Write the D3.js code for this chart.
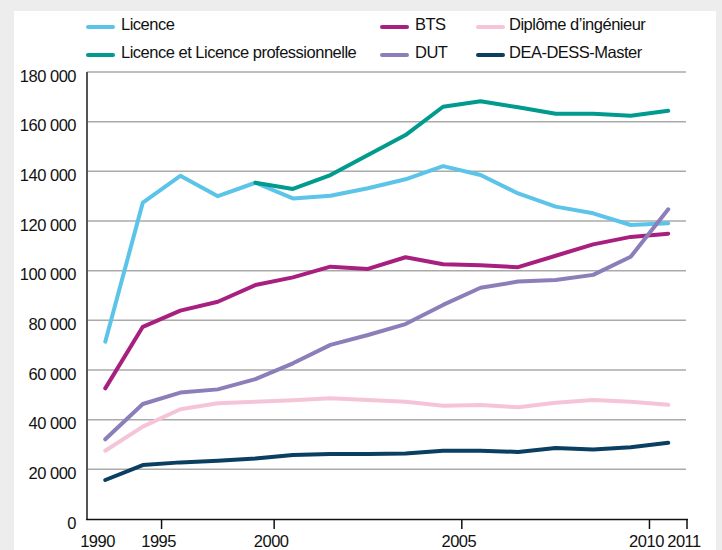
<!DOCTYPE html>
<html><head><meta charset="utf-8">
<script src="https://cdn.jsdelivr.net/npm/d3@7"></script>
<style>
html,body{margin:0;padding:0;background:#ecedec;}
svg{display:block;font-family:"Liberation Sans",Arial,sans-serif;}
text{letter-spacing:-0.5px;}
</style></head>
<body><svg id="c" width="722" height="550"></svg>
<script>
const categories = ["1990","1994","1995","1996","1998","2000","2001","2002","2003","2004","2005","2006","2007","2008","2009","2010"];
const licence      = [71400,127400,138200,130000,135400,129100,130200,133200,136800,142100,138500,131100,125800,123100,118400,119100];
const licenceLP    = [null,null,null,null,135400,132900,138500,146600,154600,166000,168200,165800,163200,163200,162400,164400];
const bts          = [52600,77400,83900,87500,94200,97300,101600,100700,105400,102600,102200,101400,106000,110600,113600,114900];
const ingenieur    = [27500,37200,44200,46600,47200,47800,48600,47900,47200,45600,45900,45000,46800,47900,47200,46000];
const master       = [15700,21700,22800,23500,24400,25800,26200,26200,26400,27500,27500,27000,28600,28000,28900,30700];
const dut          = [32100,46300,50900,52200,56300,62700,70100,74100,78500,86200,93100,95600,96200,98300,105600,124700];
const yTicks = [0,20000,40000,60000,80000,100000,120000,140000,160000,180000];
const xTickLabels = ["1990","1995","2000","2005","2010","2011"];

const series = [
  {name:"Licence", values:licence, color:"#5bc4e8"},
  {name:"Licence et Licence professionnelle", values:licenceLP, color:"#009a8e"},
  {name:"BTS", values:bts, color:"#a8207f"},
  {name:"Diplôme d’ingénieur", values:ingenieur, color:"#f6c4d9"},
  {name:"DEA-DESS-Master", values:master, color:"#0b3f61"},
  {name:"DUT", values:dut, color:"#8b7eb9"}
];

const svg = d3.select("#c");
svg.append("rect").attr("x",14).attr("y",11).attr("width",702).attr("height",545).attr("fill","#ffffff");

const x = d3.scaleBand().domain(categories).range([86.5,687]);
const y = d3.scaleLinear().domain([0,180000]).range([519,72]);
const fmt = v => d3.format(",")(v).replace(/,/g," ");
const FS = "16.5px";

// gridlines
svg.append("g").selectAll("line").data(yTicks.filter(v=>v>0)).join("line")
  .attr("x1",87).attr("x2",686).attr("y1",d=>y(d)).attr("y2",d=>y(d))
  .attr("stroke","#aaaaaa").attr("stroke-width",1.5);

// y labels
svg.append("g").selectAll("text").data(yTicks).join("text")
  .attr("x",76).attr("y",d=>y(d)+4).attr("dy","0.35em").attr("text-anchor","end")
  .attr("font-size",FS).attr("fill","#111").text(fmt);

// y axis line
svg.append("line").attr("x1",87).attr("x2",87).attr("y1",y(180000)).attr("y2",y(0))
  .attr("stroke","#555").attr("stroke-width",2);

// x axis
const tickPos = xTickLabels.map(l => categories.includes(l) ? x(l) : x.range()[1]);
svg.append("line").attr("x1",86).attr("x2",x.range()[1]+1).attr("y1",519.5).attr("y2",519.5)
  .attr("stroke","#111").attr("stroke-width",1.5);
svg.append("g").selectAll("line").data(tickPos.slice(1)).join("line")
  .attr("x1",d=>d).attr("x2",d=>d).attr("y1",519).attr("y2",529)
  .attr("stroke","#111").attr("stroke-width",1.5);
svg.append("g").selectAll("text").data(xTickLabels).join("text")
  .attr("x",(d,i)=> i===0 ? tickPos[i]+11 : tickPos[i]-3)
  .attr("y",541).attr("dy","0.35em").attr("text-anchor","middle")
  .attr("font-size",FS).attr("fill","#111").text(d=>d);

// lines
const line = d3.line()
  .defined(d=>d.v!==null)
  .x(d=>x(d.c)+x.bandwidth()/2).y(d=>y(d.v));
svg.append("g").selectAll("path").data(series).join("path")
  .attr("d",s=>line(categories.map((c,i)=>({c, v:s.values[i]}))))
  .attr("fill","none").attr("stroke",s=>s.color).attr("stroke-width",4)
  .attr("stroke-linejoin","round").attr("stroke-linecap","round");

// legend
const legendItems = [
  {s:series[0], x:88, y:24},
  {s:series[1], x:88, y:52},
  {s:series[2], x:382, y:24},
  {s:series[5], x:382, y:52},
  {s:series[3], x:478, y:24},
  {s:series[4], x:478, y:52}
];
const lg = svg.append("g").selectAll("g").data(legendItems).join("g")
  .attr("transform",d=>`translate(${d.x},${d.y})`);
lg.append("line").attr("x1",0).attr("x2",25).attr("y1",3).attr("y2",3)
  .attr("stroke",d=>d.s.color).attr("stroke-width",4).attr("stroke-linecap","round");
lg.append("text").attr("x",d=> d.x===478 ? 31 : 33).attr("y",0).attr("dy","0.35em")
  .attr("font-size",FS).attr("fill","#111").text(d=>d.s.name);
</script></body></html>
